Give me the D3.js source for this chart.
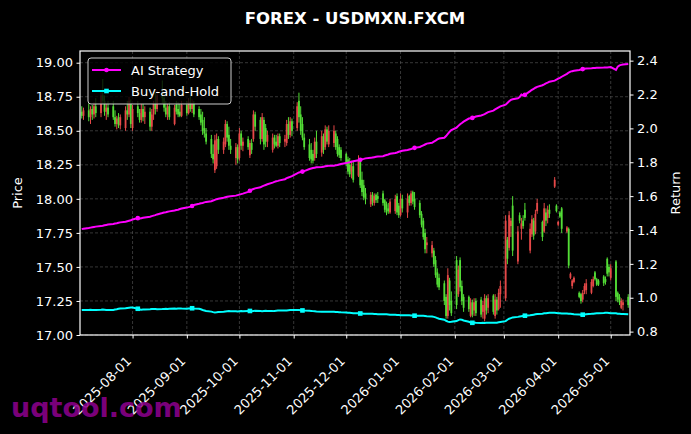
<!DOCTYPE html>
<html><head><meta charset="utf-8">
<script src="https://cdn.jsdelivr.net/npm/d3@7"></script>
<style>body{margin:0;background:#000;} svg{display:block;} text{font-family:"DejaVu Sans",sans-serif;}</style>
</head><body><svg id="c" width="691" height="434"></svg>
<script>
// ---------- DATA ----------
const title = "FOREX - USDMXN.FXCM";
const dateRange = ["2025-07-03", "2026-05-11"]; // daily (weekday) candles
const xTickLabels = ["2025-08-01","2025-09-01","2025-10-01","2025-11-01","2025-12-01","2026-01-01","2026-02-01","2026-03-01","2026-04-01","2026-05-01"];
const priceTicks = [17.00,17.25,17.50,17.75,18.00,18.25,18.50,18.75,19.00];
const returnTicks = [0.8,1.0,1.2,1.4,1.6,1.8,2.0,2.2,2.4];
const seriesNames = ["AI Strategy","Buy-and-Hold"];
// [open, high, low, close]
const ohlc = [
[18.64,18.68,18.59,18.61],[18.61,18.67,18.58,18.65],
[18.65,18.70,18.57,18.60],[18.60,18.68,18.55,18.66],[18.66,18.69,18.58,18.62],[18.62,18.71,18.59,18.68],[18.68,18.74,18.60,18.63],
[18.63,18.80,18.60,18.76],[18.76,18.88,18.70,18.72],[18.72,18.76,18.61,18.64],[18.64,18.70,18.58,18.67],[18.67,18.72,18.60,18.62],
[18.68,18.72,18.58,18.60],[18.60,18.65,18.53,18.55],[18.55,18.61,18.51,18.59],[18.60,18.63,18.52,18.54],[18.54,18.62,18.51,18.60],
[18.52,18.68,18.50,18.65],[18.65,18.72,18.58,18.62],[18.62,18.75,18.60,18.72],[18.70,18.73,18.52,18.55],[18.52,18.69,18.50,18.66],
[18.68,18.72,18.60,18.63],[18.63,18.66,18.56,18.58],[18.58,18.70,18.56,18.66],[18.66,18.70,18.57,18.60],[18.60,18.68,18.55,18.64],
[18.64,18.67,18.50,18.53],[18.53,18.66,18.50,18.62],[18.62,18.72,18.58,18.70],[18.70,18.78,18.62,18.66],[18.66,18.80,18.64,18.76],
[18.76,18.87,18.70,18.74],[18.74,18.78,18.64,18.67],[18.67,18.72,18.60,18.62],[18.62,18.70,18.58,18.68],[18.68,18.71,18.58,18.60],
[18.55,18.69,18.54,18.67],[18.69,18.72,18.62,18.64],[18.66,18.71,18.60,18.62],[18.64,18.70,18.60,18.61],[18.61,18.72,18.60,18.69],
[18.69,18.72,18.61,18.63],[18.63,18.74,18.62,18.71],[18.71,18.76,18.64,18.66],[18.66,18.73,18.63,18.70],[18.70,18.72,18.60,18.62],
[18.66,18.68,18.58,18.60],[18.62,18.66,18.54,18.56],[18.58,18.64,18.47,18.50],[18.52,18.60,18.45,18.48],[18.48,18.52,18.40,18.42],
[18.44,18.47,18.30,18.33],[18.33,18.40,18.26,18.29],[18.21,18.47,18.19,18.43],[18.24,18.48,18.22,18.44],[18.44,18.46,18.33,18.36],
[18.36,18.45,18.33,18.42],[18.40,18.58,18.38,18.55],[18.55,18.57,18.42,18.45],[18.47,18.53,18.36,18.39],[18.39,18.44,18.33,18.36],
[18.30,18.41,18.25,18.38],[18.38,18.40,18.26,18.29],[18.30,18.52,18.28,18.48],[18.48,18.50,18.36,18.39],[18.39,18.45,18.35,18.42],
[18.44,18.46,18.36,18.38],[18.32,18.43,18.30,18.41],[18.41,18.44,18.33,18.36],[18.44,18.65,18.42,18.62],[18.62,18.64,18.50,18.53],
[18.58,18.60,18.40,18.44],[18.44,18.63,18.42,18.60],[18.58,18.60,18.36,18.40],[18.52,18.55,18.38,18.42],[18.42,18.50,18.38,18.47],
[18.36,18.48,18.34,18.45],[18.45,18.47,18.37,18.40],[18.42,18.47,18.38,18.39],[18.39,18.48,18.37,18.46],[18.46,18.48,18.38,18.41],
[18.42,18.47,18.38,18.44],[18.41,18.58,18.39,18.55],[18.55,18.60,18.44,18.47],[18.47,18.60,18.45,18.57],[18.57,18.59,18.46,18.50],
[18.52,18.71,18.50,18.68],[18.72,18.78,18.56,18.60],[18.62,18.68,18.47,18.50],[18.55,18.60,18.43,18.45],[18.45,18.48,18.36,18.38],
[18.40,18.44,18.28,18.30],[18.36,18.41,18.26,18.29],[18.33,18.36,18.26,18.28],[18.30,18.45,18.28,18.42],[18.42,18.50,18.30,18.33],
[18.34,18.50,18.31,18.46],[18.46,18.48,18.33,18.36],[18.38,18.54,18.36,18.51],[18.51,18.53,18.40,18.42],[18.40,18.54,18.38,18.50],
[18.41,18.54,18.38,18.50],[18.48,18.50,18.36,18.38],[18.44,18.46,18.31,18.33],[18.38,18.40,18.30,18.32],[18.36,18.38,18.28,18.30],
[18.33,18.34,18.24,18.26],[18.29,18.31,18.18,18.20],[18.25,18.30,18.16,18.18],[18.20,18.28,18.15,18.24],[18.24,18.28,18.12,18.14],
[18.17,18.32,18.16,18.29],[18.28,18.30,18.08,18.10],[18.14,18.20,18.02,18.05],[18.10,18.14,17.99,18.01],[18.04,18.08,17.96,18.00],
[17.96,18.05,17.94,18.03],[18.03,18.05,17.95,17.98],[17.97,18.04,17.95,18.02],[18.03,18.04,17.97,17.99],[18.02,18.05,17.97,18.00],
[18.04,18.06,17.95,17.97],[17.99,18.00,17.90,17.92],[17.96,17.98,17.88,17.90],[17.93,17.97,17.89,17.91],[17.90,18.00,17.89,17.98],
[17.91,18.03,17.89,18.00],[18.02,18.04,17.88,17.90],[17.95,17.97,17.86,17.88],[17.88,18.04,17.87,18.00],[18.00,18.03,17.90,17.93],
[17.90,18.04,17.86,18.00],[18.02,18.03,17.95,17.97],[17.97,18.06,17.95,18.04],[18.05,18.06,17.96,17.98],[18.00,18.05,17.92,17.94],
[17.97,17.99,17.86,17.88],[17.89,17.91,17.79,17.81],[17.84,17.86,17.70,17.72],[17.75,17.78,17.60,17.63],[17.66,17.72,17.60,17.68],
[17.60,17.69,17.57,17.66],[17.62,17.64,17.50,17.52],[17.55,17.58,17.42,17.44],[17.46,17.49,17.35,17.37],[17.42,17.45,17.33,17.35],
[17.38,17.40,17.22,17.25],[17.28,17.30,17.12,17.14],[17.14,17.49,17.12,17.44],[17.40,17.42,17.18,17.22],[17.25,17.32,17.14,17.16],
[17.55,17.58,17.19,17.22],[17.30,17.51,17.28,17.48],[17.55,17.57,17.32,17.35],[17.36,17.40,17.22,17.25],[17.28,17.30,17.17,17.20],
[17.28,17.29,17.17,17.19],[17.14,17.27,17.13,17.24],[17.24,17.26,17.13,17.15],[17.18,17.27,17.14,17.24],[17.25,17.27,17.14,17.16],
[17.26,17.28,17.13,17.15],[17.17,17.25,17.12,17.22],[17.12,17.30,17.10,17.27],[17.27,17.29,17.15,17.18],[17.20,17.30,17.16,17.27],
[17.29,17.30,17.15,17.17],[17.14,17.30,17.12,17.26],[17.26,17.28,17.15,17.18],[17.19,17.34,17.18,17.31],[17.30,17.40,17.20,17.36],
[17.27,17.88,17.25,17.84],[17.70,17.72,17.52,17.56],[17.64,17.91,17.62,17.88],[17.80,17.86,17.72,17.84],[17.95,18.02,17.58,17.62],
[17.54,17.80,17.52,17.76],[17.88,17.90,17.82,17.84],[17.78,17.86,17.70,17.82],[17.84,17.88,17.78,17.80],[17.92,17.97,17.84,17.86],
[17.62,17.82,17.60,17.78],[17.74,17.88,17.72,17.85],[17.84,17.86,17.70,17.73],[17.76,17.92,17.74,17.89],[17.91,18.00,17.89,17.97],
[17.83,17.84,17.69,17.72],[17.76,17.97,17.75,17.93],[17.90,17.93,17.80,17.84],[17.86,17.95,17.82,17.92],[17.92,17.96,17.86,17.89],
[18.09,18.16,18.08,18.14],[17.95,17.96,17.90,17.91],[17.81,17.84,17.80,17.83],[17.90,17.91,17.86,17.87],[17.93,17.94,17.75,17.78],
[17.76,17.80,17.75,17.79],[17.78,17.79,17.49,17.51],[17.42,17.46,17.41,17.45],[17.36,17.41,17.34,17.40],[17.39,17.43,17.38,17.42],
[17.31,17.32,17.27,17.28],[17.30,17.31,17.23,17.25],[17.26,17.33,17.24,17.31],[17.32,17.38,17.30,17.36],[17.33,17.41,17.30,17.38],
[17.31,17.41,17.30,17.39],[17.36,17.43,17.35,17.41],[17.46,17.47,17.40,17.41],[17.41,17.42,17.36,17.37],[17.40,17.41,17.36,17.37],
[17.43,17.44,17.36,17.38],[17.41,17.43,17.37,17.39],[17.56,17.57,17.43,17.45],[17.50,17.52,17.43,17.46],[17.42,17.52,17.40,17.49],
[17.54,17.55,17.25,17.28],[17.31,17.32,17.24,17.26],[17.28,17.30,17.22,17.24],[17.20,17.27,17.19,17.25],[17.22,17.26,17.18,17.24],
[17.28,17.30,17.20,17.22]
];
const aiStrategy = [
1.405,1.408,
1.412,1.414,1.416,1.418,1.420, 1.423,1.425,1.428,1.430,1.432, 1.436,1.438,1.440,1.443,1.445, 1.449,1.452,1.455,1.458,1.462,
1.470,1.468,1.470,1.472,1.474, 1.478,1.482,1.485,1.488,1.492, 1.500,1.503,1.505,1.508,1.510, 1.515,1.518,1.520,1.524,1.527,
1.533,1.535,1.538,1.542,1.548, 1.555,1.558,1.560,1.563,1.566, 1.570,1.574,1.578,1.582,1.585, 1.590,1.593,1.596,1.598,1.600,
1.603,1.606,1.609,1.612,1.615, 1.625,1.632,1.638,1.642,1.646, 1.652,1.658,1.662,1.666,1.670, 1.680,1.684,1.688,1.690,1.693,
1.700,1.706,1.710,1.714,1.718, 1.735,1.740,1.742,1.745,1.748, 1.760,1.763,1.766,1.768,1.770, 1.772,1.774,1.776,1.778,1.779,
1.780,1.782,1.784,1.787,1.790, 1.795,1.798,1.800,1.803,1.806, 1.812,1.815,1.818,1.820,1.823, 1.826,1.828,1.830,1.832,1.834,
1.836,1.840,1.843,1.846,1.850, 1.855,1.858,1.862,1.865,1.868, 1.872,1.875,1.878,1.882,1.885, 1.890,1.895,1.900,1.905,1.910,
1.915,1.922,1.928,1.935,1.940, 1.945,1.955,1.968,1.980,1.990, 2.005,2.015,2.025,2.032,2.040, 2.058,2.060,2.062,2.066,2.070,
2.076,2.080,2.084,2.090,2.096, 2.105,2.112,2.118,2.124,2.130, 2.140,2.150,2.160,2.168,2.172, 2.178,2.185,2.200,2.195,2.198,
2.220,2.228,2.234,2.240,2.245, 2.255,2.260,2.266,2.270,2.276, 2.282,2.288,2.294,2.298,2.305, 2.322,2.330,2.335,2.338,2.340,
2.345,2.348,2.350,2.352,2.354, 2.355,2.356,2.357,2.358,2.358, 2.359,2.360,2.360,2.361,2.362, 2.345,2.365,2.372,2.375,2.377,
2.380
];
const buyHold = [
0.927,0.928,
0.928,0.929,0.928,0.927,0.928, 0.929,0.930,0.929,0.928,0.927, 0.928,0.930,0.932,0.935,0.937, 0.938,0.940,0.941,0.942,0.942,
0.935,0.930,0.929,0.930,0.931, 0.932,0.933,0.934,0.933,0.932, 0.933,0.934,0.935,0.934,0.935, 0.936,0.935,0.936,0.937,0.936,
0.935,0.936,0.937,0.938,0.937, 0.935,0.932,0.928,0.925,0.922, 0.918,0.915,0.913,0.914,0.916, 0.918,0.919,0.920,0.921,0.920,
0.920,0.919,0.920,0.921,0.920, 0.921,0.922,0.921,0.922,0.923, 0.922,0.921,0.922,0.923,0.922, 0.921,0.922,0.923,0.924,0.925,
0.924,0.925,0.926,0.927,0.928, 0.928,0.927,0.926,0.925,0.924, 0.923,0.922,0.921,0.920,0.919, 0.918,0.918,0.917,0.917,0.918,
0.917,0.916,0.916,0.915,0.914, 0.913,0.912,0.911,0.910,0.909, 0.908,0.907,0.907,0.906,0.906, 0.905,0.905,0.904,0.904,0.903,
0.903,0.902,0.902,0.901,0.900, 0.899,0.898,0.898,0.897,0.897, 0.896,0.896,0.895,0.895,0.894, 0.894,0.893,0.893,0.892,0.891,
0.889,0.887,0.884,0.880,0.876, 0.870,0.864,0.859,0.857,0.858, 0.862,0.868,0.872,0.870,0.866, 0.858,0.853,0.852,0.853,0.852,
0.851,0.852,0.851,0.852,0.852, 0.853,0.852,0.853,0.855,0.857, 0.862,0.870,0.876,0.880,0.884, 0.887,0.889,0.891,0.893,0.894,
0.896,0.898,0.900,0.902,0.904, 0.906,0.908,0.909,0.910,0.911, 0.911,0.910,0.909,0.908,0.907, 0.907,0.906,0.905,0.904,0.903,
0.901,0.900,0.900,0.901,0.903, 0.905,0.906,0.907,0.908,0.909, 0.910,0.911,0.911,0.910,0.909, 0.908,0.906,0.905,0.904,0.904,
0.903
];

// ---------- BUILD ----------
const parse = d3.utcParse("%Y-%m-%d");
const dates = [];
for (let t = parse(dateRange[0]).getTime(); t <= parse(dateRange[1]).getTime(); t += 864e5) {
  const d = new Date(t), wd = d.getUTCDay();
  if (wd !== 0 && wd !== 6) dates.push(d);
}
const n = Math.min(dates.length, ohlc.length);

const W = 691, H = 434, m = {l: 80, r: 630, t: 51, b: 335};
const svg = d3.select("#c");
svg.append("rect").attr("width", W).attr("height", H).attr("fill", "#000");

const x = d3.scaleUtc().domain([d3.utcDay.offset(dates[0], -1), d3.utcDay.offset(dates[n-1], 1)]).range([m.l, m.r]);
const yP = d3.scaleLinear().domain([17.0, 19.086]).range([m.b, m.t]);
const yR = d3.scaleLinear().domain([0.78, 2.457]).range([m.b, m.t]);
const xTicks = xTickLabels.map(parse);

svg.append("clipPath").attr("id", "clip").append("rect")
  .attr("x", m.l).attr("y", m.t).attr("width", m.r - m.l).attr("height", m.b - m.t);

// grid
const grid = svg.append("g").attr("stroke", "#5a5a5a").attr("stroke-width", 0.6).attr("stroke-dasharray", "3,2");
grid.selectAll(".gx").data(xTicks).join("line")
  .attr("x1", d => x(d)).attr("x2", d => x(d)).attr("y1", m.t).attr("y2", m.b);
grid.selectAll(".gy").data(priceTicks).join("line")
  .attr("x1", m.l).attr("x2", m.r).attr("y1", d => yP(d)).attr("y2", d => yP(d));

// candles
const up = "#ff5050", down = "#5cf53c";
const cg = svg.append("g").attr("clip-path", "url(#clip)").attr("opacity", 0.9);
const cd = ohlc.slice(0, n).map((v, i) => ({d: dates[i], o: v[0], h: v[1], l: v[2], c: v[3]}));
cg.selectAll("line").data(cd).join("line")
  .attr("x1", d => x(d.d)).attr("x2", d => x(d.d))
  .attr("y1", d => yP(d.h)).attr("y2", d => yP(d.l))
  .attr("stroke", d => d.c >= d.o ? up : down).attr("stroke-width", 1);
cg.selectAll("rect").data(cd).join("rect")
  .attr("x", d => x(d.d) - 0.9).attr("width", 1.8)
  .attr("y", d => yP(Math.max(d.o, d.c)))
  .attr("height", d => Math.max(1, Math.abs(yP(d.o) - yP(d.c))))
  .attr("fill", d => d.c >= d.o ? up : down);

// lines
const lg = svg.append("g").attr("clip-path", "url(#clip)");
const mkLine = (arr) => d3.line().x((v, i) => x(dates[i])).y(v => yR(v))(arr.slice(0, n));
lg.append("path").attr("d", mkLine(aiStrategy)).attr("fill", "none").attr("stroke", "#ff00ff").attr("stroke-width", 2);
lg.append("path").attr("d", mkLine(buyHold)).attr("fill", "none").attr("stroke", "#00ffff").attr("stroke-width", 2);
const idx = d3.range(0, 10).map(k => Math.round(22 + k * 22.75)).filter(i => i < n);
lg.selectAll(".ma").data(idx).join("circle").attr("cx", i => x(dates[i])).attr("cy", i => yR(aiStrategy[i])).attr("r", 2.3).attr("fill", "#ff00ff");
lg.selectAll(".mb").data(idx).join("rect").attr("x", i => x(dates[i]) - 2.3).attr("y", i => yR(buyHold[i]) - 2.3).attr("width", 4.6).attr("height", 4.6).attr("fill", "#00ffff");

// axes
const styleAxis = g => { g.select(".domain").remove(); g.selectAll("line").attr("stroke", "#fff"); g.selectAll("text").attr("fill", "#fff").attr("font-size", 13).attr("font-family", "DejaVu Sans"); };
svg.append("g").attr("transform", `translate(${m.l},0)`)
  .call(d3.axisLeft(yP).tickValues(priceTicks).tickFormat(d3.format(".2f")).tickSize(3.5).tickPadding(3.5)).call(styleAxis);
svg.append("g").attr("transform", `translate(${m.r},0)`)
  .call(d3.axisRight(yR).tickValues(returnTicks).tickFormat(d3.format(".1f")).tickSize(3.5).tickPadding(3.5)).call(styleAxis);
const xa = svg.append("g").attr("transform", `translate(0,${m.b})`)
  .call(d3.axisBottom(x).tickValues(xTicks).tickFormat(d3.utcFormat("%Y-%m-%d")).tickSize(3.5)).call(styleAxis);
xa.selectAll("text").attr("text-anchor", "end").attr("dy", 0).attr("y", 0)
  .attr("transform", "translate(-1,27) rotate(-45)");

// spines
svg.append("rect").attr("x", m.l).attr("y", m.t).attr("width", m.r - m.l).attr("height", m.b - m.t)
  .attr("fill", "none").attr("stroke", "#fff").attr("stroke-width", 1.2);

// labels
svg.append("text").attr("x", (m.l + m.r) / 2).attr("y", 24).attr("text-anchor", "middle")
  .attr("fill", "#fff").attr("font-weight", "bold").attr("font-size", 16.5).text(title);
svg.append("text").attr("transform", `translate(22,${(m.t + m.b) / 2}) rotate(-90)`).attr("text-anchor", "middle")
  .attr("fill", "#fff").attr("font-size", 13).text("Price");
svg.append("text").attr("transform", `translate(680,${(m.t + m.b) / 2}) rotate(-90)`).attr("text-anchor", "middle")
  .attr("fill", "#fff").attr("font-size", 13).text("Return");

// legend
const leg = svg.append("g");
leg.append("rect").attr("x", 88).attr("y", 58).attr("width", 143).attr("height", 46).attr("rx", 3)
  .attr("fill", "#000").attr("fill-opacity", 0.8).attr("stroke", "#cccccc").attr("stroke-width", 1);
const lItems = [{n: seriesNames[0], c: "#ff00ff", s: "circle"}, {n: seriesNames[1], c: "#00ffff", s: "square"}];
lItems.forEach((it, i) => {
  const yy = 70 + i * 21;
  leg.append("line").attr("x1", 92).attr("x2", 121).attr("y1", yy).attr("y2", yy).attr("stroke", it.c).attr("stroke-width", 2);
  if (it.s === "circle") leg.append("circle").attr("cx", 106.5).attr("cy", yy).attr("r", 2.3).attr("fill", it.c);
  else leg.append("rect").attr("x", 104.2).attr("y", yy - 2.3).attr("width", 4.6).attr("height", 4.6).attr("fill", it.c);
  leg.append("text").attr("x", 131).attr("y", yy + 4.6).attr("fill", "#fff").attr("font-size", 13).text(it.n);
});

// watermark
svg.append("text").attr("x", 11).attr("y", 417).attr("fill", "#8b008b").attr("fill-opacity", 0.9)
  .attr("font-weight", "bold").attr("font-size", 27).text("uqtool.com");
</script></body></html>
